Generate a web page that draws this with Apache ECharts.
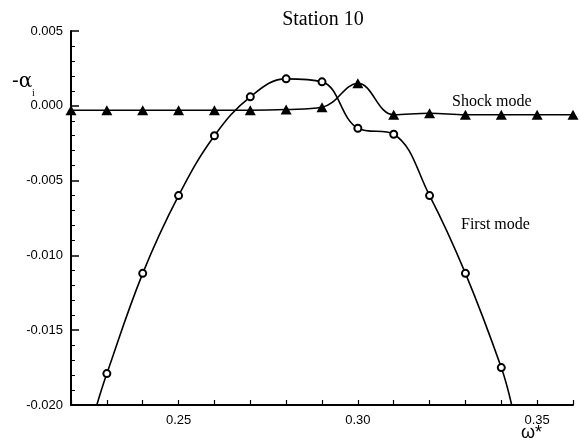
<!DOCTYPE html>
<html>
<head>
<meta charset="utf-8">
<script src="https://cdn.jsdelivr.net/npm/echarts@6/dist/echarts.min.js"></script>
<style>html,body{margin:0;padding:0;background:#fff}#c{width:580px;height:445px}</style>
</head>
<body>
<div id="c"></div>
<script>
var shockX = [0.22, 0.23, 0.24, 0.25, 0.26, 0.27, 0.28, 0.29, 0.30, 0.31, 0.32, 0.33, 0.34, 0.35, 0.36];
var shockY = [-0.0003, -0.0003, -0.0003, -0.0003, -0.0003, -0.0003, -0.00025, -0.0001, 0.0015, -0.0006, -0.0005, -0.0006, -0.0006, -0.0006, -0.0006];
var firstX = [0.23, 0.24, 0.25, 0.26, 0.27, 0.28, 0.29, 0.30, 0.31, 0.32, 0.33, 0.34];
var firstY = [-0.0179, -0.0112, -0.0060, -0.0020, 0.0006, 0.0018, 0.0016, -0.0015, -0.0019, -0.0060, -0.0112, -0.0175];
var firstTailX = [0.2272, 0.3429];
var firstTailY = [-0.020, -0.020];
var xTicks = [0.25, 0.30, 0.35];
var yTicks = [0.005, 0.000, -0.005, -0.010, -0.015, -0.020];

var shockData = shockX.map(function (x, i) { return [x, shockY[i]]; });
var firstData = [{ value: [firstTailX[0], firstTailY[0]], symbol: 'none' }]
  .concat(firstX.map(function (x, i) { return [x, firstY[i]]; }))
  .concat([{ value: [firstTailX[1], firstTailY[1]], symbol: 'none' }]);

var chart = echarts.init(document.getElementById('c'), null, { renderer: 'canvas' });
chart.setOption({
  animation: false,
  backgroundColor: '#fff',
  title: {
    text: 'Station 10', left: 318, top: 5, textAlign: 'center',
    textStyle: { fontFamily: 'Liberation Serif', fontSize: 20, fontWeight: 'normal', color: '#000' }
  },
  grid: { left: 71, right: 7, top: 31, bottom: 40 },
  xAxis: {
    type: 'value', min: 0.22, max: 0.36, interval: 0.01,
    axisLine: { show: true, onZero: false, lineStyle: { color: '#000', width: 2 } },
    axisTick: { show: true, inside: true, length: 5, lineStyle: { color: '#000', width: 1.2 } },
    splitLine: { show: false },
    axisLabel: {
      show: true, margin: 9, color: '#000', fontFamily: 'Liberation Sans', fontSize: 13,
      formatter: function (v) {
        for (var k = 0; k < xTicks.length; k++) {
          if (Math.abs(v - xTicks[k]) < 1e-6) return xTicks[k].toFixed(2);
        }
        return '';
      }
    }
  },
  yAxis: {
    type: 'value', min: -0.020, max: 0.005, interval: 0.005,
    axisLine: { show: true, onZero: false, lineStyle: { color: '#000', width: 2 } },
    axisTick: { show: true, inside: true, length: 8, lineStyle: { color: '#000', width: 1.5 } },
    minorTick: { show: true, splitNumber: 5, length: 4, lineStyle: { color: '#000', width: 1 } },
    splitLine: { show: false },
    axisLabel: {
      margin: 8, color: '#000', fontFamily: 'Liberation Sans', fontSize: 13,
      formatter: function (v) {
        for (var k = 0; k < yTicks.length; k++) {
          if (Math.abs(v - yTicks[k]) < 1e-9) return yTicks[k].toFixed(3);
        }
        return '';
      }
    }
  },
  series: [
    {
      name: 'Shock mode', type: 'line', data: shockData, smooth: 0.4,
      symbol: 'triangle', symbolSize: [11, 10],
      lineStyle: { color: '#000', width: 1.6 },
      itemStyle: { color: '#000' }
    },
    {
      name: 'First mode', type: 'line', data: firstData, smooth: 0.4,
      symbol: 'emptyCircle', symbolSize: 7,
      lineStyle: { color: '#000', width: 1.6 },
      itemStyle: { color: '#000', borderColor: '#000', borderWidth: 1.5 }
    }
  ],
  graphic: [
    { type: 'text', left: 452, top: 94, style: { text: 'Shock mode', fontFamily: 'Liberation Serif', fontSize: 16, fill: '#000' } },
    { type: 'text', left: 461, top: 217, style: { text: 'First mode', fontFamily: 'Liberation Serif', fontSize: 16, fill: '#000' } },
    { type: 'text', left: 12, top: 72, style: { text: '-α', fontFamily: 'DejaVu Serif', fontSize: 20, fill: '#000' } },
    { type: 'text', left: 32, top: 88, style: { text: 'i', fontFamily: 'Liberation Serif', fontSize: 10, fill: '#000' } },
    { type: 'text', left: 521, top: 424, style: { text: 'ω*', fontFamily: 'Liberation Sans', fontSize: 18, fill: '#000' } }
  ]
});
</script>
</body>
</html>
